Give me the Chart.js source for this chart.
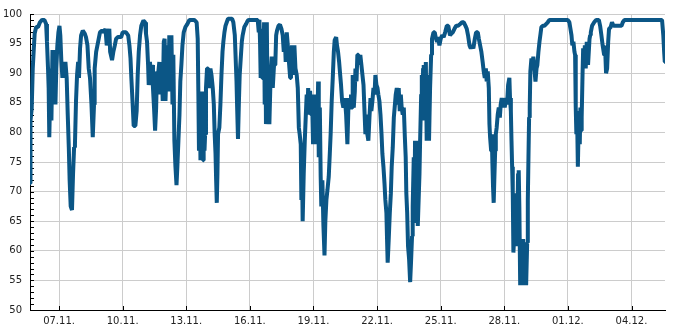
<!DOCTYPE html>
<html>

<head>
    <meta charset="utf-8">
    <title>Level</title>
    <script src="https://cdn.jsdelivr.net/npm/chart.js"></script>
    <style>
        body {
            margin: 0;
            background: #ffffff;
        }

        #main {
            width: 685px;
            height: 330px;
        }
    </style>
</head>

<body>

    <div id="main">
        <canvas id="myChart" width="685" height="330"></canvas>
    </div>

    <script>
        // x = day of month (November), December days continue as 30 + day
        var days = [
            5.63, 5.64, 5.65, 5.67, 5.71, 5.76, 5.81, 5.85, 5.92, 6.01, 6.10, 6.20, 6.31, 6.39, 6.43, 6.48, 6.51, 6.54, 6.59, 6.64,
            6.69, 6.73, 6.78, 6.83, 6.87, 6.92, 6.97, 7.02, 7.06, 7.11, 7.16, 7.20, 7.25, 7.30, 7.36, 7.41, 7.46, 7.50, 7.55, 7.61,
            7.66, 7.71, 7.75, 7.80, 7.85, 7.90, 7.94, 7.99, 8.04, 8.12, 8.21, 8.27, 8.34, 8.40, 8.46, 8.53, 8.59, 8.65, 8.68, 8.75,
            8.81, 8.87, 8.93, 9.03, 9.12, 9.19, 9.25, 9.31, 9.37,
            9.41, 9.50, 9.56, 9.63, 9.69, 9.77, 9.93, 10.00, 10.16, 10.26, 10.32, 10.37, 10.41, 10.48, 10.52, 10.60, 10.66, 10.71,
            10.76, 10.82, 10.88, 10.98, 11.06, 11.10, 11.15, 11.20, 11.23, 11.29, 11.34, 11.39, 11.43, 11.48, 11.53, 11.58, 11.62,
            11.67, 11.73, 11.78, 11.83, 11.89, 11.94, 11.98, 12.02, 12.06, 12.11, 12.16, 12.20, 12.25, 12.30, 12.35, 12.39, 12.44,
            12.49, 12.54, 12.58, 12.63, 12.68, 12.72, 12.77, 12.82, 12.88, 12.96, 13.05, 13.15,
            13.23, 13.38, 13.49, 13.54, 13.57, 13.60, 13.64, 13.67, 13.70, 13.73, 13.76, 13.79, 13.82, 13.86, 13.89, 13.93, 13.98,
            14.03, 14.09, 14.14, 14.19, 14.25, 14.30, 14.34, 14.38, 14.41, 14.44, 14.47, 14.50, 14.53, 14.56, 14.61, 14.66, 14.71,
            14.75, 14.80, 14.85, 14.91, 14.97, 15.16, 15.22, 15.29, 15.33, 15.37, 15.40, 15.44, 15.48, 15.52, 15.57, 15.62, 15.66,
            15.74, 15.82, 15.90, 15.98, 16.37, 16.42, 16.45, 16.48, 16.51, 16.54, 16.58, 16.61, 16.64, 16.67, 16.70, 16.73, 16.76,
            16.80, 16.84, 16.89,
            16.92, 16.98, 17.03, 17.08, 17.14, 17.20, 17.24, 17.28, 17.35, 17.42, 17.49, 17.55, 17.60, 17.65, 17.69, 17.74, 17.79,
            17.83, 17.90, 17.94, 17.99, 18.05, 18.10, 18.15, 18.21, 18.26, 18.31, 18.35, 18.40, 18.43, 18.46, 18.49, 18.54, 18.59,
            18.64, 18.68, 18.71, 18.75, 18.79, 18.84, 18.89, 18.93, 18.98, 19.03, 19.08, 19.12, 19.17, 19.22, 19.25, 19.30, 19.34,
            19.37, 19.42, 19.47, 19.52, 19.56, 19.61, 19.66, 19.72, 19.77, 19.81, 19.86, 19.91, 19.96, 20.00, 20.07, 20.11, 20.16,
            20.21, 20.26, 20.30, 20.35, 20.41, 20.48, 20.54, 20.60, 20.66, 20.73,
            20.77, 20.82, 20.85, 20.90, 20.95, 20.98, 21.03, 21.07, 21.12, 21.17, 21.21, 21.26, 21.31, 21.36, 21.40, 21.45, 21.50,
            21.54, 21.59, 21.64, 21.69, 21.73, 21.78, 21.83, 21.88, 21.92, 21.97, 22.02, 22.06, 22.11, 22.16, 22.21, 22.25, 22.30,
            22.35, 22.39, 22.44, 22.47, 22.50, 22.55, 22.60, 22.65, 22.69, 22.74, 22.79, 22.83, 22.88, 22.93, 22.98, 23.02, 23.07,
            23.12, 23.16, 23.21, 23.26, 23.31, 23.35, 23.38, 23.42, 23.46, 23.51, 23.56, 23.60, 23.65, 23.68, 23.73, 23.76, 23.79,
            23.84, 23.87, 23.92, 23.97, 24.00, 24.03, 24.08, 24.11, 24.14, 24.17, 24.20, 24.25, 24.30, 24.34, 24.39, 24.44,
            24.45, 24.50, 24.55, 24.59, 24.66, 24.72, 24.78, 24.83, 24.88, 24.94, 25.00, 25.07, 25.14, 25.21, 25.29, 25.36, 25.44,
            25.51, 25.57, 25.65, 25.73, 25.82, 25.92, 26.01, 26.09, 26.17, 26.23, 26.29, 26.36, 26.42, 26.48, 26.54, 26.61, 26.67,
            26.75, 26.80, 26.86, 26.92, 26.98, 27.03, 27.08, 27.13, 27.17, 27.22, 27.27, 27.30, 27.33, 27.38, 27.41, 27.44, 27.47,
            27.50, 27.53, 27.57, 27.60, 27.64, 27.69, 27.74, 27.79, 27.83, 27.88, 27.93, 27.98, 28.02, 28.09, 28.13, 28.18, 28.24,
            28.27, 28.31, 28.34, 28.37, 28.40, 28.43, 28.46, 28.49, 28.53, 28.56, 28.60, 28.65, 28.68, 28.71, 28.75, 28.79, 28.84,
            28.89, 28.93, 28.98, 29.03, 29.08, 29.11, 29.14, 29.17, 29.20, 29.23, 29.28, 29.33, 29.37, 29.42, 29.47, 29.52, 29.56,
            29.61, 29.66, 29.70, 29.75, 29.82, 29.89, 29.97, 30.05, 30.13, 30.99, 31.07, 31.12, 31.17, 31.21, 31.26, 31.31, 31.34,
            31.37, 31.40, 31.43, 31.47, 31.50, 31.53, 31.56, 31.59, 31.62, 31.65, 31.69, 31.72, 31.75, 31.80, 31.84, 31.89, 31.95,
            32.02,
            32.05, 32.08, 32.14, 32.24, 32.33, 32.46, 32.52, 32.58, 32.64, 32.71, 32.75, 32.80, 32.85, 32.90, 32.94, 33.02, 33.08,
            33.15, 33.53, 33.59, 33.67, 35.44, 35.50, 35.54, 35.57, 35.58
        ];

        var levels = [
            71.4, 85, 72, 82, 84, 90.8, 94.2, 96.7, 97.8, 97.8, 98.6, 99, 99, 98.3, 95.3, 90.8, 87.5, 79.2, 88, 82,
            93.9, 84.7, 93.9, 84.7, 90.8, 94.7, 96.9, 98, 96.4, 91.9, 89.2, 91.9, 89.2, 91.9, 89.2, 83, 77.5, 71.9, 67.5, 66.9,
            73, 77.5, 78, 85.3, 89.7, 91.9, 89.2, 94.2, 96.4, 97.2, 96.7, 96.1, 94.7, 90.8, 89.2, 84.7, 79.2, 84.7, 90.8, 93.6,
            94.7, 95.8, 96.9, 97.2, 96.9, 97.5, 94.7, 95.6, 97.5,
            93.6, 92.2, 93.6, 94.7, 95.8, 96.1, 96.1, 96.9, 96.9, 96.4, 94.7, 92.5, 89.2, 84.2, 81.1, 81.1, 83.6, 89.7,
            93.6, 96.4, 98, 98.9, 98.6, 96.7, 95.3, 91.4, 88, 91.9, 88, 91.4, 87.5, 84.2, 80.3, 84.2, 90.3,
            89.7, 91.9, 86.4, 91.9, 85.3, 95.3, 95.8, 85.3, 89.7, 94.7, 86.9, 96.4, 90.8, 96.4, 84.7, 93.1, 78.6,
            74.2, 71.1, 74.2, 78.6, 83, 88.6, 91.4, 94.7, 96.9, 97.8, 98.3, 99,
            99, 99, 98.6, 95.8, 86.9, 76.9, 86.4, 75.3, 84.2, 76.9, 86.9, 75.3, 85.8, 76.9, 79.7, 87.5, 90.8,
            90.8, 87.5, 90.8, 89.7, 87.5, 84.7, 79.7, 76.4, 71.9, 68.1, 73, 79.7, 79.7, 80.8, 84.7, 89.7, 93.6,
            95.3, 96.9, 98, 98.6, 99.2, 99.2, 98.6, 96.4, 92.5, 88.6, 84.2, 78.9, 84.7, 89.7, 92.5, 95.3, 96.4,
            97.8, 98.3, 98.9, 99, 99, 96.9, 99, 95.3, 89.2, 95.3, 89.2, 97.5, 89.2, 98.6, 84.7, 98.6, 81.4,
            98.6, 81.4, 89.7,
            81.4, 89.7, 92.8, 87.5, 91.4, 91.4, 96.4, 97.2, 98, 98.2, 97.5, 96.4, 93.6, 95.8, 91.9, 96.9, 94.7,
            92.5, 89.2, 93.1, 94.7, 89.7, 94.7, 90.8, 89.7, 87.5, 80.8, 79.7, 78, 68.6, 74.7, 65, 73, 78.6,
            83, 86.4, 83, 87.5, 83, 87, 83, 86.4, 78, 85.8, 78, 86.4, 78, 88.6, 75.8, 84.2, 72.5,
            67.5, 71.9, 64.2, 59.2, 65, 68.6, 70.3, 72.5, 76.4, 79.7, 85.3, 89.2, 93.6, 95.6, 96.1, 94.7, 93.6,
            91.9, 89.7, 88, 85.3, 84.2, 85.8, 83, 78, 85.8, 84.2,
            86.4, 84.2, 89.7, 84.2, 86.9, 90.8, 88.6, 93.1, 93.1, 91.4, 93.1, 91.4, 89.7, 88, 84.2, 79.7, 83,
            79.7, 78.6, 82.5, 85.8, 83.6, 85.3, 87.5, 86.4, 89.7, 88, 87.5, 86.4, 85.3, 83, 79.7, 76.4, 74.2,
            71.4, 68.6, 66.4, 62, 58, 62, 66.4, 69.7, 74.2, 77.5, 82.5, 84.2, 86.4, 87.5, 84.7, 87.5, 83.6,
            86.4, 84.2, 83, 84.2, 79.2, 75.8, 69.7, 66.4, 60.8, 58.6, 54.7, 58, 62.5, 67.5, 75.8, 64.7, 78.6,
            70.3, 78.6, 64.2, 69.7, 73, 78.6, 86.4, 89.7, 82, 90.8, 91.4, 84.2, 91.9, 78.6, 89.7, 84.2,
            78.6, 87.5, 93.1, 95.8, 96.9, 96.9, 95.8, 95.3, 96.1, 94.7, 95.8, 96.4, 96.1, 96.9, 98, 98, 96.4,
            96.7, 96.9, 97.5, 98, 98, 98.3, 98.6, 98.6, 98, 97.5, 96.4, 94.7, 94.2, 94.7, 94.2, 95.8, 96.9,
            96.9, 95.8, 94.7, 93.6, 91.9, 90.3, 89.2, 90.8, 88.6, 90.3, 87.5, 81.4, 79.2, 76.9, 79.7, 74.7, 70.8,
            68.1, 72, 76.9, 79.7, 80.8, 83, 84.2, 82.5, 84.7, 85.8, 84.2, 85.8, 84.2, 85.8, 84.7, 88, 89.2,
            85.8, 83.6, 78.6, 74.2, 69.7, 59.7, 62, 67.5, 69.7, 62, 60.8, 73, 73.6, 67.5, 54.2, 62, 54.2,
            62, 54.2, 61.4, 54.2, 61.4, 68.6, 75.8, 82.5, 84.2, 90.3, 92.5, 91.4, 92.8, 90.8, 88.6, 90.8, 91.4,
            93.6, 95.3, 96.4, 97.8, 98, 98, 98.3, 98.6, 99, 99, 98.6, 97.5, 96.4, 94.7, 95.3, 93.6, 93.1,
            84.2, 79.7, 83.6, 74.2, 79.7, 82.5, 78, 84.2, 80.3, 82.5, 89.7, 94.2, 90.8, 94.7, 90.8, 95.3, 91.4,
            95.8,
            96.4, 96.9, 98, 98.6, 99, 99, 98, 96.4, 94.7, 93.1, 94.7, 90, 90.8, 95.3, 97.5, 97.8, 98.6,
            98, 98, 98.6, 99, 99, 96.4, 93.6, 91.9, 91.9
        ];

        var tickDays = [7, 10, 13, 16, 19, 22, 25, 28, 31, 34];
        var tickLabels = ['07.11.', '10.11.', '13.11.', '16.11.', '19.11.', '22.11.', '25.11.', '28.11.', '01.12.', '04.12.'];

        var points = days.map(function (d, i) {
            return { x: d, y: levels[i] };
        });

        // small inward ticks on the axes (every unit on y, at the dates on x)
        var innerTicks = {
            id: 'innerTicks',
            beforeDatasetsDraw: function (chart) {
                var c = chart.ctx;
                var xs = chart.scales.x;
                var ys = chart.scales.y;
                var area = chart.chartArea;
                c.save();
                c.strokeStyle = '#000000';
                c.lineWidth = 1;
                c.beginPath();
                for (var v = 50; v <= 100; v++) {
                    var py = Math.round(ys.getPixelForValue(v)) + 0.5;
                    c.moveTo(area.left, py);
                    c.lineTo(area.left + 4, py);
                }
                tickDays.forEach(function (d) {
                    var px = Math.round(xs.getPixelForValue(d)) + 0.5;
                    c.moveTo(px, area.bottom);
                    c.lineTo(px, area.bottom - 4);
                });
                c.stroke();
                c.restore();
            }
        };

        var ctx = document.getElementById('myChart').getContext('2d');
        var chart = new Chart(ctx, {
            type: 'line',
            data: {
                datasets: [{
                    data: points,
                    borderColor: '#0b5686',
                    borderWidth: 4,
                    borderJoinStyle: 'bevel',
                    pointRadius: 0,
                    fill: false,
                    tension: 0
                }]
            },
            options: {
                responsive: false,
                animation: false,
                layout: {
                    padding: { top: 10, right: 20, left: 0, bottom: 0 }
                },
                plugins: {
                    legend: { display: false },
                    tooltip: { enabled: false }
                },
                scales: {
                    x: {
                        type: 'linear',
                        min: 5.63,
                        max: 35.58,
                        afterBuildTicks: function (scale) {
                            scale.ticks = tickDays.map(function (d) { return { value: d }; });
                        },
                        afterFit: function (scale) {
                            scale.height = 20;
                        },
                        grid: { color: '#cccccc', drawTicks: false },
                        border: { color: '#000000' },
                        ticks: {
                            autoSkip: false,
                            maxRotation: 0,
                            padding: 5,
                            color: '#222222',
                            font: { family: 'DejaVu Sans', size: 10 },
                            callback: function (value) {
                                return tickLabels[tickDays.indexOf(value)];
                            }
                        }
                    },
                    y: {
                        min: 50,
                        max: 100,
                        afterFit: function (scale) {
                            scale.width = 30;
                        },
                        grid: { color: '#cccccc', drawTicks: false },
                        border: { color: '#000000' },
                        ticks: {
                            stepSize: 5,
                            padding: 8,
                            color: '#222222',
                            font: { family: 'DejaVu Sans', size: 10 }
                        }
                    }
                }
            },
            plugins: [innerTicks]
        });
    </script>
</body>

</html>
